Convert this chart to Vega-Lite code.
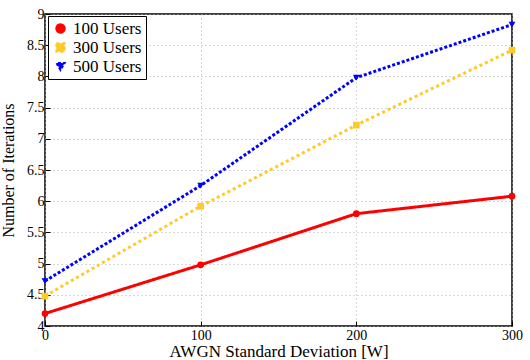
{
  "$schema": "https://vega.github.io/schema/vega-lite/v6.json",
  "autosize": "none",
  "width": 467,
  "height": 312,
  "padding": {"left": 45, "top": 14, "right": 18, "bottom": 34},
  "background": "white",
  "config": {
    "font": "Liberation Serif",
    "view": {"stroke": "black", "strokeWidth": 1.5},
    "axis": {
      "labelFont": "Liberation Serif",
      "titleFont": "Liberation Serif",
      "labelFontSize": 14,
      "titleFontSize": 16,
      "titleFontWeight": "normal",
      "labelColor": "black",
      "titleColor": "black",
      "domain": false,
      "tickColor": "black",
      "tickSize": -5,
      "gridColor": "#b0b0b0",
      "gridDash": [1, 3],
      "gridWidth": 1
    }
  },
  "data": {
    "values": [
      {"x": 0, "y": 4.2, "s": "100 Users"},
      {"x": 100, "y": 4.98, "s": "100 Users"},
      {"x": 200, "y": 5.8, "s": "100 Users"},
      {"x": 300, "y": 6.08, "s": "100 Users"},
      {"x": 0, "y": 4.48, "s": "300 Users"},
      {"x": 100, "y": 5.92, "s": "300 Users"},
      {"x": 200, "y": 7.22, "s": "300 Users"},
      {"x": 300, "y": 8.42, "s": "300 Users"},
      {"x": 0, "y": 4.72, "s": "500 Users"},
      {"x": 100, "y": 6.25, "s": "500 Users"},
      {"x": 200, "y": 7.98, "s": "500 Users"},
      {"x": 300, "y": 8.83, "s": "500 Users"}
    ]
  },
  "encoding": {
    "x": {
      "field": "x", "type": "quantitative",
      "scale": {"domain": [0, 300], "nice": false},
      "axis": {"values": [0, 100, 200, 300], "title": "AWGN Standard Deviation [W]", "titleFontSize": 17, "titlePadding": 1, "labelPadding": 7, "labelFlush": false}
    },
    "y": {
      "field": "y", "type": "quantitative",
      "scale": {"domain": [4, 9], "nice": false, "zero": false},
      "axis": {"values": [4, 4.5, 5, 5.5, 6, 6.5, 7, 7.5, 8, 8.5, 9], "format": "~g", "title": "Number of Iterations", "titlePadding": 10, "labelPadding": 6, "labelFlush": false}
    },
    "color": {
      "field": "s", "type": "nominal",
      "scale": {"domain": ["100 Users", "300 Users", "500 Users"], "range": ["#ff0000", "#ffc926", "#0000ff"]},
      "legend": {
        "title": null, "orient": "none", "legendX": 3, "legendY": 2,
        "strokeColor": "black", "fillColor": "white", "padding": 4,
        "labelFont": "Liberation Serif", "labelFontSize": 17, "labelColor": "black",
        "symbolSize": 70, "rowPadding": 1, "symbolStrokeWidth": 2
      }
    },
    "shape": {
      "field": "s", "type": "nominal",
      "scale": {"domain": ["100 Users", "300 Users", "500 Users"], "range": ["circle", "square", "triangle-down"]}
    },
    "strokeDash": {
      "field": "s", "type": "nominal",
      "scale": {"domain": ["100 Users", "300 Users", "500 Users"], "range": [[1, 0], [3, 3], [3, 2]]},
      "legend": null
    }
  },
  "layer": [
    {"mark": {"type": "line", "strokeWidth": 3}},
    {"mark": {"type": "point", "filled": true, "size": 45, "opacity": 1}}
  ]
}
